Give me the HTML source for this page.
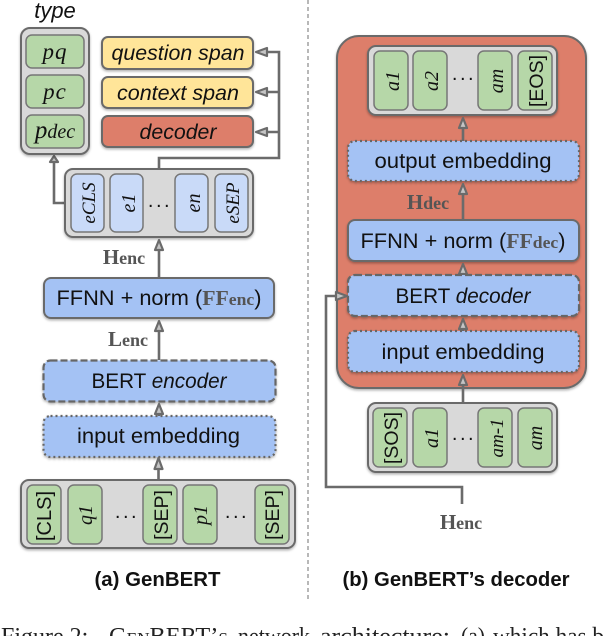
<!DOCTYPE html>
<html>
<head>
<meta charset="utf-8">
<style>
html,body{margin:0;padding:0;background:#fff;}
body{width:604px;height:636px;overflow:hidden;}
svg{display:block;}
text{font-family:"Liberation Sans",sans-serif;fill:#111;}
.s{font-family:"Liberation Serif",serif;font-style:italic;}
.l{font-family:"Liberation Serif",serif;font-weight:bold;fill:#555;}
.i{font-style:italic;}
.t{font-family:"Liberation Serif",serif;fill:#222;}
.box{stroke:#6b6b6b;stroke-width:2;filter:url(#sh);}
.in{stroke:#777;stroke-width:1.5;}
.c{stroke:#6b6b6b;stroke-width:2.6;fill:none;}
.h{fill:#c4c4c4;stroke:#6b6b6b;stroke-width:2.2;stroke-linejoin:round;}
</style>
</head>
<body>
<svg width="604" height="636" viewBox="0 0 604 636" xmlns="http://www.w3.org/2000/svg">
<defs>
<filter id="sh" x="-10%" y="-10%" width="120%" height="125%"><feDropShadow dx="0" dy="1.5" stdDeviation="1.2" flood-color="#000" flood-opacity=".3"/></filter>
</defs>

<line x1="308" y1="0" x2="308" y2="601" stroke="#999" stroke-width="1.4" stroke-dasharray="4 3"/>

<!-- LEFT -->
<path class="c" d="M71 203H54V163"/>
<path class="h" d="M54 156L50 162H58Z"/>
<text x="55" y="18" text-anchor="middle" font-size="22" class="i">type</text>
<rect class="box" x="21" y="28" width="68" height="126" rx="9" fill="#d9d9d9"/>
<rect class="in" x="26" y="35" width="58" height="33" rx="6" fill="#b6d7a8"/>
<rect class="in" x="26" y="75" width="58" height="33" rx="6" fill="#b6d7a8"/>
<rect class="in" x="26" y="115" width="58" height="33" rx="6" fill="#b6d7a8"/>
<text class="s" x="55" y="59" text-anchor="middle" font-size="23" letter-spacing="1">pq</text>
<text class="s" x="55" y="99" text-anchor="middle" font-size="23" letter-spacing="1">pc</text>
<text class="s" x="55" y="138" text-anchor="middle"><tspan font-size="25">p</tspan><tspan font-size="20">dec</tspan></text>

<rect class="box" x="102" y="37" width="151" height="32" rx="6" fill="#ffe599"/>
<rect class="box" x="102" y="77" width="151" height="31" rx="6" fill="#ffe599"/>
<rect class="box" x="102" y="116" width="151" height="31" rx="6" fill="#dd7e6b"/>
<text x="178" y="60" text-anchor="middle" font-size="21" class="i" textLength="133" lengthAdjust="spacingAndGlyphs">question span</text>
<text x="178" y="100" text-anchor="middle" font-size="21" class="i" textLength="122" lengthAdjust="spacingAndGlyphs">context span</text>
<text x="178" y="139" text-anchor="middle" font-size="21" class="i" textLength="77" lengthAdjust="spacingAndGlyphs">decoder</text>

<path class="c" d="M159 169V158H279V52H266M279 92H266M279 132H266"/>
<path class="h" d="M256 52L267 48V56Z"/>
<path class="h" d="M256 92L267 88V96Z"/>
<path class="h" d="M256 132L267 128V136Z"/>

<rect class="box" x="65" y="169" width="188" height="68" rx="8" fill="#d9d9d9"/>
<rect class="in" x="71" y="174" width="33" height="58" rx="6" fill="#c9daf8"/>
<rect class="in" x="110" y="174" width="33" height="58" rx="6" fill="#c9daf8"/>
<rect class="in" x="175" y="174" width="33" height="58" rx="6" fill="#c9daf8"/>
<rect class="in" x="215" y="174" width="33" height="58" rx="6" fill="#c9daf8"/>
<text class="s" transform="translate(95,203) rotate(-90)" text-anchor="middle" font-size="19">eCLS</text>
<text class="s" transform="translate(135,203) rotate(-90)" text-anchor="middle" font-size="20">e1</text>
<text class="s" transform="translate(200,203) rotate(-90)" text-anchor="middle" font-size="20">en</text>
<text class="s" transform="translate(239,203) rotate(-90)" text-anchor="middle" font-size="19">eSEP</text>
<text x="160" y="207" text-anchor="middle" font-size="20" letter-spacing="2.5">...</text>

<path class="c" d="M159 278V250"/>
<path class="h" d="M159 240L155 250H163Z"/>
<text class="l" x="124" y="264" text-anchor="middle"><tspan font-size="21">H</tspan><tspan font-size="18">enc</tspan></text>

<rect class="box" x="44" y="278" width="230" height="40" rx="7" fill="#a4c2f4"/>
<text x="159" y="305" text-anchor="middle" font-size="21" textLength="205" lengthAdjust="spacingAndGlyphs">FFNN + norm (<tspan class="l" font-size="21">FF</tspan><tspan class="l" font-size="17">enc</tspan>)</text>

<path class="c" d="M159 360V331"/>
<path class="h" d="M159 321L155 331H163Z"/>
<text class="l" x="128" y="346" text-anchor="middle"><tspan font-size="21">L</tspan><tspan font-size="18">enc</tspan></text>

<rect x="43.500" y="360.500" width="232" height="41" rx="7" fill="#a4c2f4" stroke="#666" stroke-width="2.2" stroke-dasharray="7 3" filter="url(#sh)"/>
<text x="159" y="388" text-anchor="middle" font-size="21" textLength="135" lengthAdjust="spacingAndGlyphs">BERT <tspan class="i">encoder</tspan></text>

<path class="c" d="M159 416V412"/>
<path class="h" d="M159 404L155 414H163Z"/>

<rect x="43.500" y="416" width="232" height="41" rx="7" fill="#a4c2f4" stroke="#666" stroke-width="2.2" stroke-dasharray="2 3" filter="url(#sh)"/>
<text x="158.500" y="443" text-anchor="middle" font-size="21" textLength="163" lengthAdjust="spacingAndGlyphs">input embedding</text>

<path class="c" d="M158.500 480V468"/>
<path class="h" d="M158.500 458L154.500 469H162.500Z"/>

<rect class="box" x="21" y="480" width="274" height="68" rx="8" fill="#d9d9d9"/>
<rect class="in" x="27" y="485" width="34" height="59" rx="6" fill="#b6d7a8"/>
<rect class="in" x="68" y="485" width="34" height="59" rx="6" fill="#b6d7a8"/>
<rect class="in" x="143" y="485" width="34" height="59" rx="6" fill="#b6d7a8"/>
<rect class="in" x="183" y="485" width="34" height="59" rx="6" fill="#b6d7a8"/>
<rect class="in" x="255" y="485" width="34" height="59" rx="6" fill="#b6d7a8"/>
<text transform="translate(51,516) rotate(-90)" text-anchor="middle" font-size="20">[CLS]</text>
<text class="s" transform="translate(92,515) rotate(-90)" text-anchor="middle" font-size="20">q1</text>
<text transform="translate(168,515) rotate(-90)" text-anchor="middle" font-size="19.500">[SEP]</text>
<text class="s" transform="translate(207,515) rotate(-90)" text-anchor="middle" font-size="20">p1</text>
<text transform="translate(279,515) rotate(-90)" text-anchor="middle" font-size="19.500">[SEP]</text>
<text x="127" y="518" text-anchor="middle" font-size="20" letter-spacing="2.5">...</text>
<text x="237" y="518" text-anchor="middle" font-size="20" letter-spacing="2.5">...</text>

<text x="157.500" y="586" text-anchor="middle" font-size="20" font-weight="bold" textLength="126" lengthAdjust="spacingAndGlyphs">(a) GenBERT</text>

<!-- RIGHT -->
<rect class="box" x="337" y="36" width="249" height="352" rx="22" fill="#dd7e6b"/>

<rect class="box" x="368" y="46" width="189" height="69" rx="8" fill="#d9d9d9"/>
<rect class="in" x="374" y="51" width="34" height="59" rx="6" fill="#b6d7a8"/>
<rect class="in" x="413" y="51" width="34" height="59" rx="6" fill="#b6d7a8"/>
<rect class="in" x="478" y="51" width="34" height="59" rx="6" fill="#b6d7a8"/>
<rect class="in" x="518" y="51" width="34" height="59" rx="6" fill="#b6d7a8"/>
<text class="s" transform="translate(399,81) rotate(-90)" text-anchor="middle" font-size="20">a1</text>
<text class="s" transform="translate(438,81) rotate(-90)" text-anchor="middle" font-size="20">a2</text>
<text class="s" transform="translate(503,81) rotate(-90)" text-anchor="middle" font-size="20">am</text>
<text transform="translate(543,81) rotate(-90)" text-anchor="middle" font-size="19.500">[EOS]</text>
<text x="464" y="80" text-anchor="middle" font-size="20" letter-spacing="2.5">...</text>

<path class="c" d="M463 141V127"/>
<path class="h" d="M463 118L459 128H467Z"/>

<rect x="348" y="141" width="231" height="40" rx="7" fill="#a4c2f4" stroke="#666" stroke-width="2.2" stroke-dasharray="2 3" filter="url(#sh)"/>
<text x="463" y="168" text-anchor="middle" font-size="21" textLength="177" lengthAdjust="spacingAndGlyphs">output embedding</text>

<path class="c" d="M463 220V193"/>
<path class="h" d="M463 184L459 194H467Z"/>
<text class="l" x="428" y="209" text-anchor="middle"><tspan font-size="21">H</tspan><tspan font-size="18">dec</tspan></text>

<rect class="box" x="348" y="220" width="231" height="41" rx="7" fill="#a4c2f4"/>
<text x="463" y="248" text-anchor="middle" font-size="21" textLength="205" lengthAdjust="spacingAndGlyphs">FFNN + norm (<tspan class="l" font-size="21">FF</tspan><tspan class="l" font-size="17">dec</tspan>)</text>

<path class="c" d="M463 275V272"/>
<path class="h" d="M463 264L459 274H467Z"/>

<rect x="348" y="275" width="231" height="41" rx="7" fill="#a4c2f4" stroke="#666" stroke-width="2.2" stroke-dasharray="7 3" filter="url(#sh)"/>
<text x="463" y="303" text-anchor="middle" font-size="21" textLength="135" lengthAdjust="spacingAndGlyphs">BERT <tspan class="i">decoder</tspan></text>

<path class="c" d="M463 331V328"/>
<path class="h" d="M463 319L459 329H467Z"/>

<rect x="348" y="331" width="231" height="41" rx="7" fill="#a4c2f4" stroke="#666" stroke-width="2.2" stroke-dasharray="2 3" filter="url(#sh)"/>
<text x="463" y="359" text-anchor="middle" font-size="21" textLength="163" lengthAdjust="spacingAndGlyphs">input embedding</text>

<path class="c" d="M463 403V384"/>
<path class="h" d="M463 375L459 385H467Z"/>

<rect class="box" x="368" y="403" width="189" height="69" rx="8" fill="#d9d9d9"/>
<rect class="in" x="373" y="408" width="34" height="59" rx="6" fill="#b6d7a8"/>
<rect class="in" x="413" y="408" width="34" height="59" rx="6" fill="#b6d7a8"/>
<rect class="in" x="478" y="408" width="34" height="59" rx="6" fill="#b6d7a8"/>
<rect class="in" x="518" y="408" width="34" height="59" rx="6" fill="#b6d7a8"/>
<text transform="translate(398,438) rotate(-90)" text-anchor="middle" font-size="19.500">[SOS]</text>
<text class="s" transform="translate(438,438) rotate(-90)" text-anchor="middle" font-size="20">a1</text>
<text class="s" transform="translate(503,438) rotate(-90)" text-anchor="middle" font-size="19">am-1</text>
<text class="s" transform="translate(542,438) rotate(-90)" text-anchor="middle" font-size="20">am</text>
<text x="464" y="440" text-anchor="middle" font-size="20" letter-spacing="2.5">...</text>

<path class="c" d="M462 504V487H326V296H337"/>
<path class="h" d="M347 296L336 292V300Z"/>
<text class="l" x="461" y="529" text-anchor="middle"><tspan font-size="21">H</tspan><tspan font-size="18">enc</tspan></text>

<text x="456" y="586" text-anchor="middle" font-size="20" font-weight="bold" textLength="227" lengthAdjust="spacingAndGlyphs">(b) GenBERT’s decoder</text>

<text class="t" x="1" y="644" font-size="24">Figure 2:</text>
<text class="t" x="109" y="644" font-size="24" textLength="119" lengthAdjust="spacingAndGlyphs" style="font-variant:small-caps">GenBERT’s</text>
<text class="t" x="238" y="644" font-size="24" textLength="72" lengthAdjust="spacingAndGlyphs">network</text>
<text class="t" x="320" y="644" font-size="24" textLength="130" lengthAdjust="spacingAndGlyphs">architecture:</text>
<text class="t" x="461" y="644" font-size="24" textLength="24" lengthAdjust="spacingAndGlyphs">(a)</text>
<text class="t" x="493" y="644" font-size="24" textLength="111" lengthAdjust="spacingAndGlyphs">which has b</text>
</svg>
</body>
</html>
